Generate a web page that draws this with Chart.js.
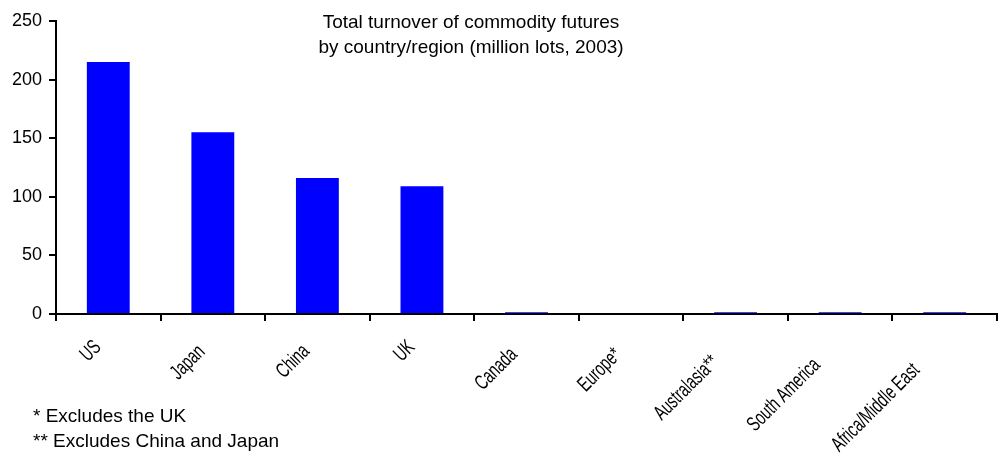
<!DOCTYPE html>
<html>
<head>
<meta charset="utf-8">
<script src="https://cdn.jsdelivr.net/npm/chart.js@4.4.0/dist/chart.umd.min.js"></script>
<style>
  html, body { margin: 0; padding: 0; background: #fff; }
  #wrap { width: 1001px; height: 453px; }
</style>
</head>
<body>
<div id="wrap"><canvas id="canvas-bar" width="1001" height="453"></canvas></div>
<script>
const regions = [
  "US",
  "Japan",
  "China",
  "UK",
  "Canada",
  "Europe*",
  "Australasia**",
  "South America",
  "Africa/Middle East",
];
const turnover = [215, 155, 116, 109, 1.5, 0, 1.5, 1.5, 1.5];
const yTicks = [0, 50, 100, 150, 200, 250];
const titleLines = [
  "Total turnover of commodity futures",
  "by country/region (million lots, 2003)",
];
const footnotes = ["* Excludes the UK", "** Excludes China and Japan"];

const FONT = '"Liberation Sans", Arial, sans-serif';
const SQUEEZE = 0.68;

// slanted, squeezed category names under the x axis
const slantedLabels = {
  id: "slantedLabels",
  afterDraw(chart) {
    const { ctx } = chart;
    const x = chart.scales.x;
    ctx.save();
    ctx.font = "21px " + FONT;
    ctx.fillStyle = "#000";
    ctx.textAlign = "right";
    ctx.textBaseline = "top";
    regions.forEach((name, i) => {
      const px = x.getPixelForTick(i);
      const raw = ctx.measureText(name).width;
      // short names sit a little further left of the tick
      const nudge = Math.max(0, 9 - 0.2 * raw * SQUEEZE);
      ctx.save();
      ctx.translate(px - 8 - nudge, x.top + 18);
      ctx.rotate(-Math.PI / 4);
      ctx.scale(SQUEEZE, 1);
      ctx.fillText(name, -0.34 * raw, 0);
      ctx.restore();
    });
    ctx.restore();
  },
};

// title inside the plot and the footnotes at the bottom left
const notes = {
  id: "notes",
  afterDraw(chart) {
    const { ctx } = chart;
    ctx.save();
    ctx.fillStyle = "#000";
    ctx.font = "19px " + FONT;
    ctx.textAlign = "center";
    ctx.textBaseline = "alphabetic";
    ctx.fillText(titleLines[0], 471, 28);
    ctx.fillText(titleLines[1], 471, 53);
    ctx.textAlign = "left";
    ctx.fillText(footnotes[0], 33, 422);
    ctx.fillText(footnotes[1], 33, 447);
    ctx.restore();
  },
};

window.onload = function () {
  const ctx = document.getElementById("canvas-bar");

  const data = {
    labels: regions,
    datasets: [
      {
        label: "Turnover",
        backgroundColor: "#0000ff",
        borderWidth: 0,
        data: turnover,
        categoryPercentage: 1,
        barPercentage: 0.41,
      },
    ],
  };

  const config = {
    type: "bar",
    data,
    options: {
      responsive: false,
      animation: false,
      layout: { padding: { top: 21, right: 4, bottom: 0, left: 0 } },
      scales: {
        x: {
          afterFit: (s) => { s.height = 139; },
          grid: {
            offset: true,
            drawOnChartArea: false,
            color: "#000",
            lineWidth: 2,
            tickLength: 7,
          },
          border: { color: "#000", width: 2 },
          ticks: { display: false },
        },
        y: {
          min: 0,
          max: 250,
          afterFit: (s) => { s.width = 56; },
          afterBuildTicks: (s) => { s.ticks = yTicks.map((v) => ({ value: v })); },
          grid: {
            drawOnChartArea: false,
            color: "#000",
            lineWidth: 2,
            tickLength: 7,
          },
          border: { color: "#000", width: 2 },
          ticks: {
            color: "#000",
            padding: 7,
            font: { family: FONT, size: 18 },
          },
        },
      },
      plugins: {
        legend: { display: false },
        tooltip: { enabled: false },
      },
    },
    plugins: [slantedLabels, notes],
  };

  const myChart = new Chart(ctx, config);
};
</script>
</body>
</html>
